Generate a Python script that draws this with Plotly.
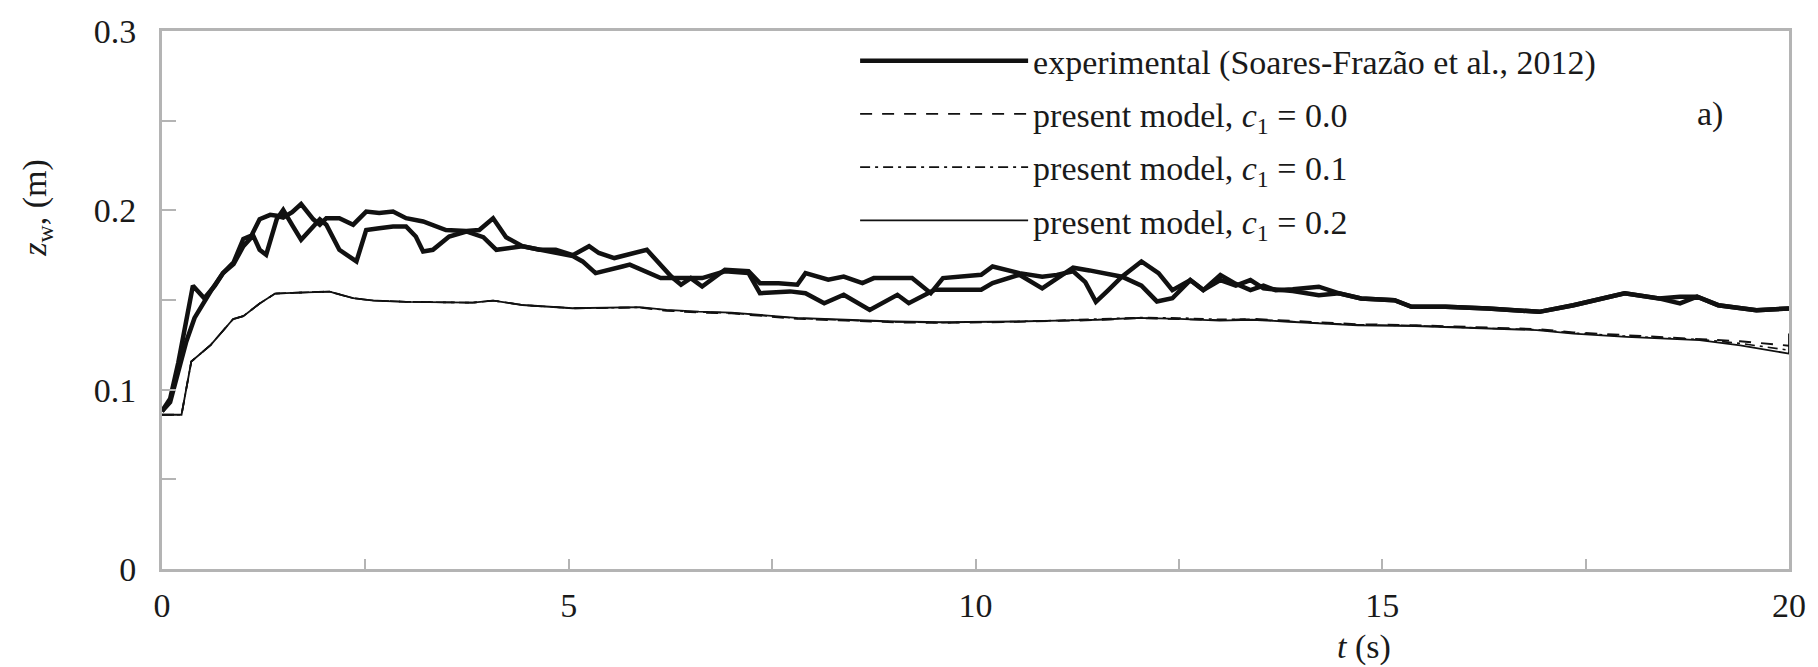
import plotly.graph_objects as go

# ---------------- data ----------------
t_exp_a = [0, 0.1, 0.2, 0.3, 0.38, 0.52, 0.65, 0.75, 0.88, 1.0, 1.1, 1.2, 1.33, 1.41, 1.49, 1.6,
           1.71, 1.86, 1.94, 2.02, 2.18, 2.35, 2.51, 2.67, 2.84, 3.0, 3.21, 3.49, 3.74, 3.9, 4.07,
           4.23, 4.43, 4.64, 4.84, 5.05, 5.25, 5.37, 5.56, 5.96, 6.26, 6.38, 6.5, 6.64, 6.92, 7.21,
           7.35, 7.58, 7.81, 7.91, 8.19, 8.38, 8.61, 8.75, 9.22, 9.45, 9.6, 10.07, 10.21, 10.54,
           10.82, 11.0, 11.2, 11.35, 11.48, 11.62, 11.8, 12.04, 12.25, 12.42, 12.64, 12.8, 13.01,
           13.2, 13.38, 13.54, 13.69, 13.9, 14.22, 14.47, 14.74, 15.15, 15.36, 15.78, 16.3, 16.93,
           17.35, 17.98, 18.4, 18.66, 18.87, 19.13, 19.6, 20.0]
z_exp_a = [0.088, 0.095, 0.115, 0.14, 0.158, 0.151, 0.158, 0.165, 0.171, 0.184, 0.186, 0.195,
           0.1975, 0.197, 0.196, 0.199, 0.2035, 0.195, 0.192, 0.1956, 0.1956, 0.192, 0.1993,
           0.1985, 0.1993, 0.1956, 0.1938, 0.189, 0.1885, 0.189, 0.1956, 0.185, 0.180, 0.178,
           0.178, 0.175, 0.180, 0.1762, 0.1734, 0.178, 0.1631, 0.1585, 0.1622, 0.1575, 0.1669,
           0.166, 0.1594, 0.1594, 0.1585, 0.165, 0.1613, 0.1631, 0.1594, 0.1622, 0.1622, 0.1538,
           0.1622, 0.1641, 0.1687, 0.165, 0.163, 0.164, 0.166, 0.16, 0.149, 0.155, 0.163, 0.1715,
           0.165, 0.1555, 0.1611, 0.1555, 0.164, 0.159, 0.1555, 0.158, 0.1555, 0.156, 0.1574,
           0.1537, 0.1509, 0.1499, 0.1462, 0.1462, 0.1453, 0.1434, 0.1471, 0.1537, 0.1509, 0.1518,
           0.1518, 0.1471, 0.1443, 0.1453]

t_exp_b = [0, 0.1, 0.2, 0.3, 0.4, 0.5, 0.6, 0.75, 0.88, 1.0, 1.12, 1.2, 1.28, 1.41, 1.49, 1.61,
           1.71, 1.86, 1.94, 2.02, 2.18, 2.39, 2.51, 2.67, 2.84, 3.0, 3.12, 3.21, 3.33, 3.53, 3.74,
           3.95, 4.11, 4.43, 4.64, 4.84, 5.05, 5.17, 5.33, 5.66, 5.75, 6.13, 6.64, 6.92, 7.21, 7.35,
           7.72, 7.91, 8.14, 8.38, 8.70, 9.04, 9.18, 9.5, 10.07, 10.21, 10.54, 10.82, 11.0, 11.2,
           11.4, 11.6, 11.8, 12.04, 12.23, 12.42, 12.64, 12.8, 13.01, 13.2, 13.38, 13.54, 13.69,
           13.9, 14.22, 14.47, 14.74, 15.15, 15.36, 15.78, 16.3, 16.93, 17.35, 17.98, 18.4, 18.66,
           18.87, 19.13, 19.6, 20.0]
z_exp_b = [0.088, 0.093, 0.11, 0.127, 0.14, 0.148, 0.155, 0.165, 0.17, 0.18, 0.186, 0.178,
           0.1752, 0.195, 0.2002, 0.191, 0.1836, 0.191, 0.195, 0.192, 0.178, 0.1715, 0.189, 0.19,
           0.191, 0.191, 0.1854, 0.1771, 0.178, 0.1854, 0.1882, 0.185, 0.178, 0.18, 0.178, 0.176,
           0.1745, 0.1715, 0.165, 0.1687, 0.1697, 0.1622, 0.1622, 0.166, 0.165, 0.1538, 0.1548,
           0.1538, 0.1482, 0.1529, 0.1445, 0.1529, 0.1482, 0.1557, 0.1557, 0.1594, 0.1641, 0.1565,
           0.162, 0.168, 0.1665, 0.165, 0.163, 0.158, 0.1492, 0.151, 0.1611, 0.1555, 0.1611, 0.158,
           0.1611, 0.1565, 0.156, 0.155, 0.1527, 0.1537, 0.1509, 0.1499, 0.1462, 0.1462, 0.1453,
           0.1434, 0.1471, 0.1537, 0.1509, 0.1481, 0.1518, 0.1471, 0.1443, 0.1453]

t_model = [0, 0.24, 0.36, 0.6, 0.875, 1.0, 1.2, 1.39, 1.6, 2.06, 2.35, 2.6, 3.0, 3.5, 3.82, 4.07,
           4.43, 5.05, 5.5, 5.87, 6.2, 6.6, 7.0, 7.3, 7.8, 8.4, 9.0, 9.6, 10.07, 10.5, 11.0, 11.5,
           12.0, 12.5, 13.0, 13.4, 13.8, 14.2, 14.7, 15.4, 16.3, 16.9, 17.35, 18.0, 18.9, 19.4, 20.0]
z_c00 = [0.086, 0.086, 0.1157, 0.125, 0.1394, 0.141, 0.148, 0.1536, 0.154, 0.1547, 0.151, 0.1497,
         0.149, 0.1488, 0.1485, 0.1497, 0.1472, 0.1454, 0.1455, 0.1458, 0.1440, 0.1430, 0.1425,
         0.1415, 0.1395, 0.1385, 0.1375, 0.1372, 0.1374, 0.1378, 0.1383, 0.1388, 0.1398, 0.1395,
         0.1388, 0.1395, 0.1385, 0.1375, 0.1365, 0.1360, 0.1345, 0.1338, 0.1320, 0.1305, 0.1285,
         0.1270, 0.1245]
z_c01 = [0.086, 0.086, 0.1157, 0.125, 0.1394, 0.141, 0.148, 0.1536, 0.154, 0.1547, 0.151, 0.1497,
         0.149, 0.1488, 0.1485, 0.1497, 0.1472, 0.1454, 0.1457, 0.1459, 0.1443, 0.1433, 0.1428,
         0.1418, 0.1398, 0.1388, 0.1378, 0.1374, 0.1376, 0.1380, 0.1386, 0.1392, 0.1402, 0.1400,
         0.1392, 0.1393, 0.1382, 0.1372, 0.1362, 0.1357, 0.1342, 0.1335, 0.1316, 0.1298, 0.1280,
         0.1258, 0.1220]
t_c02 = t_model + [20.0]
z_c02 = [0.086, 0.086, 0.1157, 0.125, 0.1394, 0.141, 0.148, 0.1536, 0.154, 0.1547, 0.151, 0.1497,
         0.149, 0.1488, 0.1485, 0.1497, 0.1472, 0.1454, 0.1458, 0.146, 0.1445, 0.1435, 0.143,
         0.142, 0.140, 0.139, 0.138, 0.1376, 0.1376, 0.138, 0.1385, 0.139, 0.140, 0.1395, 0.1385,
         0.139, 0.138, 0.1369, 0.1359, 0.1355, 0.134, 0.1332, 0.1313, 0.1294, 0.1276, 0.1247,
         0.1201, 0.1313]

x_ticks = [0, 5, 10, 15, 20]
x_tick_labels = ["0", "5", "10", "15", "20"]
y_ticks = [0, 0.1, 0.2, 0.3]
y_tick_labels = ["0", "0.1", "0.2", "0.3"]

legend_names = ["experimental (Soares-Frazão et al., 2012)",
                "present model, <i>c</i><sub>1</sub> = 0.0",
                "present model, <i>c</i><sub>1</sub> = 0.1",
                "present model, <i>c</i><sub>1</sub> = 0.2"]

# ---------------- figure ----------------
FONT = "Liberation Serif"
TXT = "#1a1a1a"
AX = "#b4b4b4"

fig = go.Figure()
fig.add_trace(go.Scatter(x=t_exp_a, y=z_exp_a, mode="lines", name=legend_names[0],
                         legendgroup="g0", line=dict(color="#111111", width=4.5)))
fig.add_trace(go.Scatter(x=t_exp_b, y=z_exp_b, mode="lines", name=legend_names[0],
                         legendgroup="g0", showlegend=False,
                         line=dict(color="#111111", width=4.5)))
fig.add_trace(go.Scatter(x=t_model, y=z_c00, mode="lines", name=legend_names[1],
                         legendgroup="g1", line=dict(color="#111111", width=1.8, dash="12px,10px")))
fig.add_trace(go.Scatter(x=t_model, y=z_c01, mode="lines", name=legend_names[2],
                         legendgroup="g2",
                         line=dict(color="#111111", width=1.6, dash="10px,5px,3px,5px")))
fig.add_trace(go.Scatter(x=t_c02, y=z_c02, mode="lines", name=legend_names[3],
                         legendgroup="g3", line=dict(color="#111111", width=1.8)))

fig.update_layout(
    width=1818, height=667,
    margin=dict(l=162, r=26, t=31, b=98),
    paper_bgcolor="white", plot_bgcolor="white",
    font=dict(family=FONT, size=34, color=TXT),
    showlegend=True,
    legend=dict(x=0.426, y=0.998, xanchor="left", yanchor="top",
                bgcolor="rgba(0,0,0,0)", itemwidth=168, tracegroupgap=6,
                font=dict(family=FONT, size=34, color=TXT)),
    xaxis=dict(range=[0, 20], tickvals=x_ticks, ticktext=x_tick_labels,
               showgrid=False, zeroline=False, showline=True, linecolor=AX, linewidth=3,
               mirror=True, ticks="inside", ticklen=10, tickcolor=AX, tickwidth=1.5,
               minor=dict(dtick=2.5, ticks="inside", ticklen=10, tickcolor=AX, tickwidth=1.5),
               tickfont=dict(family=FONT, size=34, color=TXT), ticklabelstandoff=4),
    yaxis=dict(range=[0, 0.3], tickvals=y_ticks, ticktext=y_tick_labels,
               showgrid=False, zeroline=False, showline=True, linecolor=AX, linewidth=3,
               mirror=True, ticks="inside", ticklen=14, tickcolor=AX, tickwidth=1.5,
               minor=dict(dtick=0.05, ticks="inside", ticklen=14, tickcolor=AX, tickwidth=1.5),
               tickfont=dict(family=FONT, size=34, color=TXT), ticklabelstandoff=16),
    annotations=[
        dict(text="<i>t</i> (s)", xref="paper", yref="paper", x=0.739, y=-0.145,
             xanchor="center", yanchor="middle", showarrow=False,
             font=dict(family=FONT, size=34, color=TXT)),
        dict(text="<i>z</i><sub>w</sub>, (m)", xref="paper", yref="paper", x=-0.0767, y=0.672,
             xanchor="center", yanchor="middle", showarrow=False, textangle=-90,
             font=dict(family=FONT, size=34, color=TXT)),
        dict(text="a)", xref="paper", yref="paper", x=0.9515, y=0.845,
             xanchor="center", yanchor="middle", showarrow=False,
             font=dict(family=FONT, size=34, color=TXT)),
    ],
)

fig.write_html("out.html", config={"displayModeBar": False},
               post_script="document.body.style.margin='0px';"
                           "document.body.style.overflow='hidden';")
